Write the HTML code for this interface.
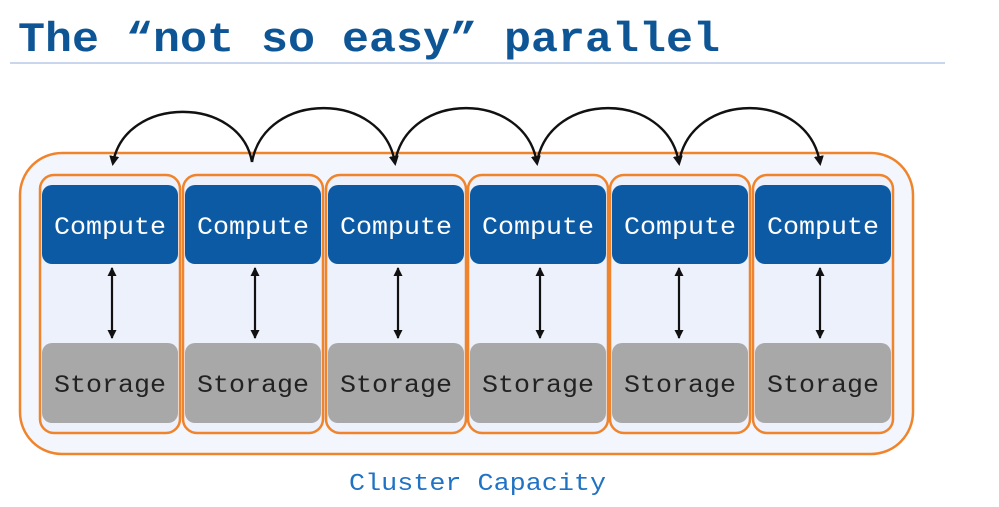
<!DOCTYPE html>
<html><head><style>
html,body{margin:0;padding:0;background:#fff;width:999px;height:507px;overflow:hidden}
</style></head><body>
<svg width="999" height="507" xmlns="http://www.w3.org/2000/svg" font-family="Liberation Mono, monospace">
<defs><marker id="a" markerWidth="10" markerHeight="10" refX="7" refY="5" orient="auto" markerUnits="userSpaceOnUse"><path d="M0,0 L10,5 L0,10 Z" fill="#111"/></marker>
<marker id="b" markerWidth="10" markerHeight="10" refX="8" refY="4.5" orient="auto-start-reverse" markerUnits="userSpaceOnUse"><path d="M0,0 L9,4.5 L0,9 Z" fill="#111"/></marker></defs>
<text x="18" y="51" font-size="42" font-weight="bold" fill="#0e5596" textLength="702" lengthAdjust="spacingAndGlyphs">The “not so easy” parallel</text>
<line x1="10" y1="63" x2="945" y2="63" stroke="#b8c8e8" stroke-width="1.5"/>
<rect x="20" y="153" width="893" height="301" rx="42" fill="#f3f6fc" stroke="#f0842c" stroke-width="2.5"/>
<g>
<g transform="translate(40,0)"><rect x="0" y="175" width="140" height="258" rx="14" fill="#ecf1fc" stroke="#f0842c" stroke-width="2.5"/><rect x="2" y="185" width="136" height="79" rx="10" fill="#0b5aa3"/><rect x="2" y="343" width="136" height="80" rx="10" fill="#a8a8a8"/><text x="14" y="234" font-size="25" fill="#fff" textLength="112" lengthAdjust="spacingAndGlyphs">Compute</text><text x="14" y="392" font-size="25" fill="#222" textLength="112" lengthAdjust="spacingAndGlyphs">Storage</text><line x1="72" y1="268" x2="72" y2="338" stroke="#111" stroke-width="2.2" marker-start="url(#b)" marker-end="url(#b)"/></g>
<g transform="translate(183,0)"><rect x="0" y="175" width="140" height="258" rx="14" fill="#ecf1fc" stroke="#f0842c" stroke-width="2.5"/><rect x="2" y="185" width="136" height="79" rx="10" fill="#0b5aa3"/><rect x="2" y="343" width="136" height="80" rx="10" fill="#a8a8a8"/><text x="14" y="234" font-size="25" fill="#fff" textLength="112" lengthAdjust="spacingAndGlyphs">Compute</text><text x="14" y="392" font-size="25" fill="#222" textLength="112" lengthAdjust="spacingAndGlyphs">Storage</text><line x1="72" y1="268" x2="72" y2="338" stroke="#111" stroke-width="2.2" marker-start="url(#b)" marker-end="url(#b)"/></g>
<g transform="translate(326,0)"><rect x="0" y="175" width="140" height="258" rx="14" fill="#ecf1fc" stroke="#f0842c" stroke-width="2.5"/><rect x="2" y="185" width="136" height="79" rx="10" fill="#0b5aa3"/><rect x="2" y="343" width="136" height="80" rx="10" fill="#a8a8a8"/><text x="14" y="234" font-size="25" fill="#fff" textLength="112" lengthAdjust="spacingAndGlyphs">Compute</text><text x="14" y="392" font-size="25" fill="#222" textLength="112" lengthAdjust="spacingAndGlyphs">Storage</text><line x1="72" y1="268" x2="72" y2="338" stroke="#111" stroke-width="2.2" marker-start="url(#b)" marker-end="url(#b)"/></g>
<g transform="translate(468,0)"><rect x="0" y="175" width="140" height="258" rx="14" fill="#ecf1fc" stroke="#f0842c" stroke-width="2.5"/><rect x="2" y="185" width="136" height="79" rx="10" fill="#0b5aa3"/><rect x="2" y="343" width="136" height="80" rx="10" fill="#a8a8a8"/><text x="14" y="234" font-size="25" fill="#fff" textLength="112" lengthAdjust="spacingAndGlyphs">Compute</text><text x="14" y="392" font-size="25" fill="#222" textLength="112" lengthAdjust="spacingAndGlyphs">Storage</text><line x1="72" y1="268" x2="72" y2="338" stroke="#111" stroke-width="2.2" marker-start="url(#b)" marker-end="url(#b)"/></g>
<g transform="translate(610,0)"><rect x="0" y="175" width="140" height="258" rx="14" fill="#ecf1fc" stroke="#f0842c" stroke-width="2.5"/><rect x="2" y="185" width="136" height="79" rx="10" fill="#0b5aa3"/><rect x="2" y="343" width="136" height="80" rx="10" fill="#a8a8a8"/><text x="14" y="234" font-size="25" fill="#fff" textLength="112" lengthAdjust="spacingAndGlyphs">Compute</text><text x="14" y="392" font-size="25" fill="#222" textLength="112" lengthAdjust="spacingAndGlyphs">Storage</text><line x1="69" y1="268" x2="69" y2="338" stroke="#111" stroke-width="2.2" marker-start="url(#b)" marker-end="url(#b)"/></g>
<g transform="translate(753,0)"><rect x="0" y="175" width="140" height="258" rx="14" fill="#ecf1fc" stroke="#f0842c" stroke-width="2.5"/><rect x="2" y="185" width="136" height="79" rx="10" fill="#0b5aa3"/><rect x="2" y="343" width="136" height="80" rx="10" fill="#a8a8a8"/><text x="14" y="234" font-size="25" fill="#fff" textLength="112" lengthAdjust="spacingAndGlyphs">Compute</text><text x="14" y="392" font-size="25" fill="#222" textLength="112" lengthAdjust="spacingAndGlyphs">Storage</text><line x1="67" y1="268" x2="67" y2="338" stroke="#111" stroke-width="2.2" marker-start="url(#b)" marker-end="url(#b)"/></g>
</g>
<g fill="none" stroke="#111" stroke-width="2.4">
<path d="M252,162 C240,95 125,95 113,163" marker-end="url(#a)"/>
<path d="M252,162 C265,90 383,90 395,163" marker-end="url(#a)"/>
<path d="M395,162 C408,90 525,90 537,163" marker-end="url(#a)"/>
<path d="M537,162 C550,90 667,90 679,163" marker-end="url(#a)"/>
<path d="M679,162 C692,90 808,90 820,163" marker-end="url(#a)"/>
</g>
<text x="349" y="490" font-size="24" fill="#1f72c4" textLength="257" lengthAdjust="spacingAndGlyphs">Cluster Capacity</text>
</svg>
</body></html>
